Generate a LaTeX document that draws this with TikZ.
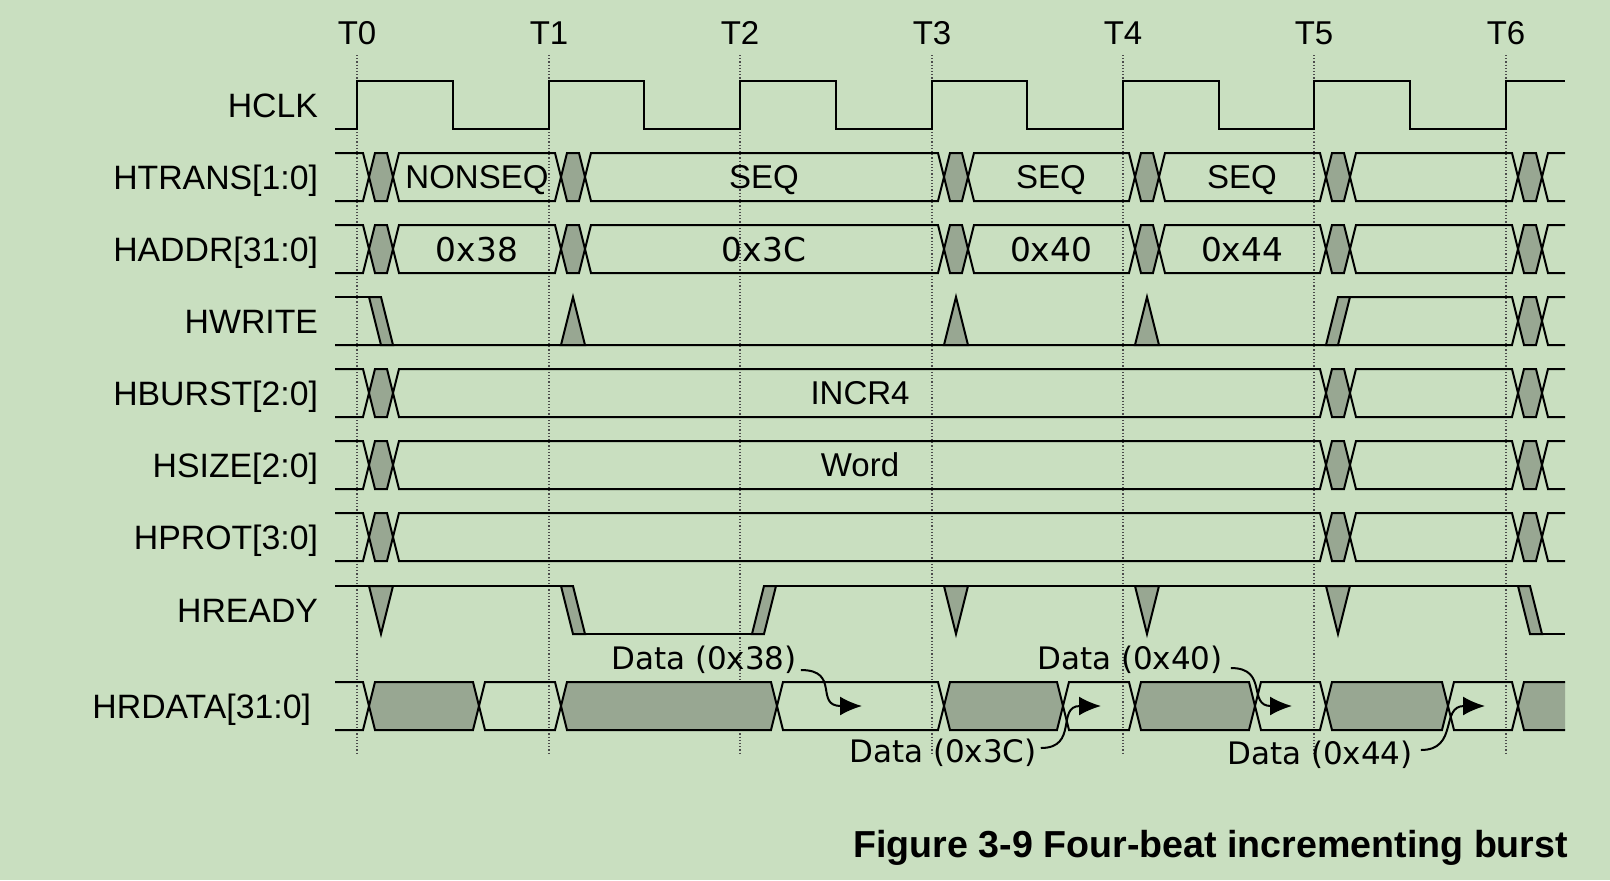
\documentclass[tikz,border=0pt]{standalone}
\usepackage{fontspec}
\setmainfont{Liberation Sans}
\newfontfamily\hexfont{DejaVu Sans}
\usetikzlibrary{arrows.meta}
\definecolor{bgreen}{RGB}{201,223,192}
\definecolor{sgray}{RGB}{152,167,146}

\begin{document}
\begin{tikzpicture}[x=0.5pt,y=-0.5pt,line width=1pt,
  sig/.style={anchor=east,inner sep=0pt,text height=12pt,text depth=0pt,font=\fontsize{16.9}{19}\selectfont},
  val/.style={inner sep=0pt,text height=11.8pt,text depth=0pt,font=\fontsize{16.5}{19}\selectfont},
  hexval/.style={inner sep=0pt,text height=12pt,text depth=0pt,font=\hexfont\fontsize{16.4}{19}\selectfont},
  datalbl/.style={inner sep=0pt,font=\hexfont\fontsize{15.5}{18}\selectfont},
  xfill/.style={fill=sgray},
  darr/.style={-{Latex[length=11pt,width=9.5pt]}}]
\fill[bgreen] (0,0) rectangle (1610,880);
\useasboundingbox (0,0) rectangle (1610,880);

% clock edges
\node[val] (t0) at (357,33) {T0};
\node[val] (t1) at (549,33) {T1};
\node[val] (t2) at (740,33) {T2};
\node[val] (t3) at (932,33) {T3};
\node[val] (t4) at (1123,33) {T4};
\node[val] (t5) at (1314,33) {T5};
\node[val] (t6) at (1506,33) {T6};
\draw[densely dotted,line width=0.6pt,black!70] (357,55)--(357,753) (549,55)--(549,753) (740,55)--(740,753) (932,55)--(932,753) (1123,55)--(1123,753) (1314,55)--(1314,753) (1506,55)--(1506,753);

% signal names
\node[sig] (lclk) at (319,105) {HCLK};
\node[sig] (ltrans) at (319,177) {HTRANS[1:0]};
\node[sig] (laddr) at (319,249) {HADDR[31:0]};
\node[sig] (lwrite) at (319,321) {HWRITE};
\node[sig] (lburst) at (319,393) {HBURST[2:0]};
\node[sig] (lsize) at (319,465) {HSIZE[2:0]};
\node[sig] (lprot) at (319,537) {HPROT[3:0]};
\node[sig] (lready) at (319,610) {HREADY};
\node[sig] (lrdata) at (312,706) {HRDATA[31:0]};

% HCLK
\begin{scope}[shift={(0,81)}]
\draw (335,48)--(357,48)--(357,0)--(453,0)--(453,48)--(549,48)--(549,0)--(644,0)--(644,48)--(740,48)--(740,0)--(836,0)--(836,48)--(932,48)--(932,0)--(1027,0)--(1027,48)--(1123,48)--(1123,0)--(1219,0)--(1219,48)--(1314,48)--(1314,0)--(1410,0)--(1410,48)--(1506,48)--(1506,0)--(1565,0);
\end{scope}

% HTRANS, HADDR
\foreach \r in {153,225}{
\begin{scope}[shift={(0,\r)}]
\fill[xfill] (369,24)--(375,0)--(387,0)--(393,24)--(387,48)--(375,48)--cycle
  (561,24)--(567,0)--(579,0)--(585,24)--(579,48)--(567,48)--cycle
  (944,24)--(950,0)--(962,0)--(968,24)--(962,48)--(950,48)--cycle
  (1135,24)--(1141,0)--(1153,0)--(1159,24)--(1153,48)--(1141,48)--cycle
  (1326,24)--(1332,0)--(1344,0)--(1350,24)--(1344,48)--(1332,48)--cycle
  (1518,24)--(1524,0)--(1536,0)--(1542,24)--(1536,48)--(1524,48)--cycle;
\draw (335,0)--(363,0)--(375,48)--(387,48)--(399,0)--(555,0)--(567,48)--(579,48)--(591,0)--(938,0)--(950,48)--(962,48)--(974,0)--(1129,0)--(1141,48)--(1153,48)--(1165,0)--(1320,0)--(1332,48)--(1344,48)--(1356,0)--(1512,0)--(1524,48)--(1536,48)--(1548,0)--(1565,0);
\draw (335,48)--(363,48)--(375,0)--(387,0)--(399,48)--(555,48)--(567,0)--(579,0)--(591,48)--(938,48)--(950,0)--(962,0)--(974,48)--(1129,48)--(1141,0)--(1153,0)--(1165,48)--(1320,48)--(1332,0)--(1344,0)--(1356,48)--(1512,48)--(1524,0)--(1536,0)--(1548,48)--(1565,48);
\end{scope}}
\node[val] (vtr1) at (477,177) {NONSEQ};
\node[val] (vtr2) at (764,177) {SEQ};
\node[val] (vtr3) at (1051,177) {SEQ};
\node[val] (vtr4) at (1242,177) {SEQ};
\node[hexval] (vad1) at (477,249) {0x38};
\node[hexval] (vad2) at (764,249) {0x3C};
\node[hexval] (vad3) at (1051,249) {0x40};
\node[hexval] (vad4) at (1242,249) {0x44};

% HWRITE
\begin{scope}[shift={(0,297)}]
\fill[xfill] (1518,24)--(1524,0)--(1536,0)--(1542,24)--(1536,48)--(1524,48)--cycle;
\draw (335,0)--(369,0);
\draw (335,48)--(1512,48)--(1524,0)--(1536,0)--(1548,48)--(1565,48);
\draw (1350,0)--(1512,0)--(1524,48)--(1536,48)--(1548,0)--(1565,0);
\draw[xfill] (369,0)--(381,0)--(393,48)--(381,48)--cycle;
\draw[xfill] (561,48)--(573,0)--(585,48)--cycle;
\draw[xfill] (944,48)--(956,0)--(968,48)--cycle;
\draw[xfill] (1135,48)--(1147,0)--(1159,48)--cycle;
\draw[xfill] (1326,48)--(1338,48)--(1350,0)--(1338,0)--cycle;
\end{scope}

% HBURST, HSIZE, HPROT
\foreach \r in {369,441,513}{
\begin{scope}[shift={(0,\r)}]
\fill[xfill] (369,24)--(375,0)--(387,0)--(393,24)--(387,48)--(375,48)--cycle
  (1326,24)--(1332,0)--(1344,0)--(1350,24)--(1344,48)--(1332,48)--cycle
  (1518,24)--(1524,0)--(1536,0)--(1542,24)--(1536,48)--(1524,48)--cycle;
\draw (335,0)--(363,0)--(375,48)--(387,48)--(399,0)--(1320,0)--(1332,48)--(1344,48)--(1356,0)--(1512,0)--(1524,48)--(1536,48)--(1548,0)--(1565,0);
\draw (335,48)--(363,48)--(375,0)--(387,0)--(399,48)--(1320,48)--(1332,0)--(1344,0)--(1356,48)--(1512,48)--(1524,0)--(1536,0)--(1548,48)--(1565,48);
\end{scope}}
\node[val] (vburst) at (860,393) {INCR4};
\node[val] (vsize) at (860,465) {Word};

% HREADY
\begin{scope}[shift={(0,586)}]
\draw (335,0)--(561,0);
\draw (573,48)--(752,48);
\draw (764,0)--(1530,0);
\draw (1530,48)--(1565,48);
\draw[xfill] (369,0)--(381,48)--(393,0)--cycle;
\draw[xfill] (561,0)--(573,0)--(585,48)--(573,48)--cycle;
\draw[xfill] (752,48)--(764,48)--(776,0)--(764,0)--cycle;
\draw[xfill] (944,0)--(956,48)--(968,0)--cycle;
\draw[xfill] (1135,0)--(1147,48)--(1159,0)--cycle;
\draw[xfill] (1326,0)--(1338,48)--(1350,0)--cycle;
\draw[xfill] (1518,0)--(1530,0)--(1542,48)--(1530,48)--cycle;
\end{scope}

% HRDATA
\begin{scope}[shift={(0,682)}]
\fill[xfill] (369,24)--(375,0)--(473,0)--(479,24)--(473,48)--(375,48)--cycle
  (561,24)--(567,0)--(771,0)--(777,24)--(771,48)--(567,48)--cycle
  (944,24)--(950,0)--(1057,0)--(1063,24)--(1057,48)--(950,48)--cycle
  (1135,24)--(1141,0)--(1249,0)--(1255,24)--(1249,48)--(1141,48)--cycle
  (1326,24)--(1332,0)--(1442,0)--(1448,24)--(1442,48)--(1332,48)--cycle
  (1518,24)--(1524,0)--(1565,0)--(1565,48)--(1524,48)--cycle;
\draw (335,0)--(363,0)--(375,48)--(473,48)--(485,0)--(555,0)--(567,48)--(771,48)--(783,0)--(938,0)--(950,48)--(1057,48)--(1069,0)--(1129,0)--(1141,48)--(1249,48)--(1261,0)--(1320,0)--(1332,48)--(1442,48)--(1454,0)--(1512,0)--(1524,48)--(1565,48);
\draw (335,48)--(363,48)--(375,0)--(473,0)--(485,48)--(555,48)--(567,0)--(771,0)--(783,48)--(938,48)--(950,0)--(1057,0)--(1069,48)--(1129,48)--(1141,0)--(1249,0)--(1261,48)--(1320,48)--(1332,0)--(1442,0)--(1454,48)--(1512,48)--(1524,0)--(1565,0);
\end{scope}

% data beats
\node[datalbl] (d38) at (704,660) {Data (0x38)};
\node[datalbl] (d3c) at (943,753) {Data (0x3C)};
\node[datalbl] (d40) at (1130,660) {Data (0x40)};
\node[datalbl] (d44) at (1320,755) {Data (0x44)};
\coordinate (a38) at (862,706);
\coordinate (a3c) at (1101,706);
\coordinate (a40) at (1292,706);
\coordinate (a44) at (1485,706);
\draw[darr] ([shift={(3,10)}]d38.east) .. controls +(40,0) and +(-48,0) .. (a38);
\draw[darr] ([shift={(3,-5)}]d3c.east) .. controls +(38,0) and +(-45,0) .. (a3c);
\draw[darr] ([shift={(7,8)}]d40.east) .. controls +(38,0) and +(-45,0) .. (a40);
\draw[darr] ([shift={(7,-5)}]d44.east) .. controls +(38,0) and +(-45,0) .. (a44);

\node[anchor=base east,inner sep=0pt,font=\bfseries\fontsize{18.8}{22}\selectfont] (cap) at (1569,857) {Figure 3-9 Four-beat incrementing burst};
\end{tikzpicture}
\end{document}
